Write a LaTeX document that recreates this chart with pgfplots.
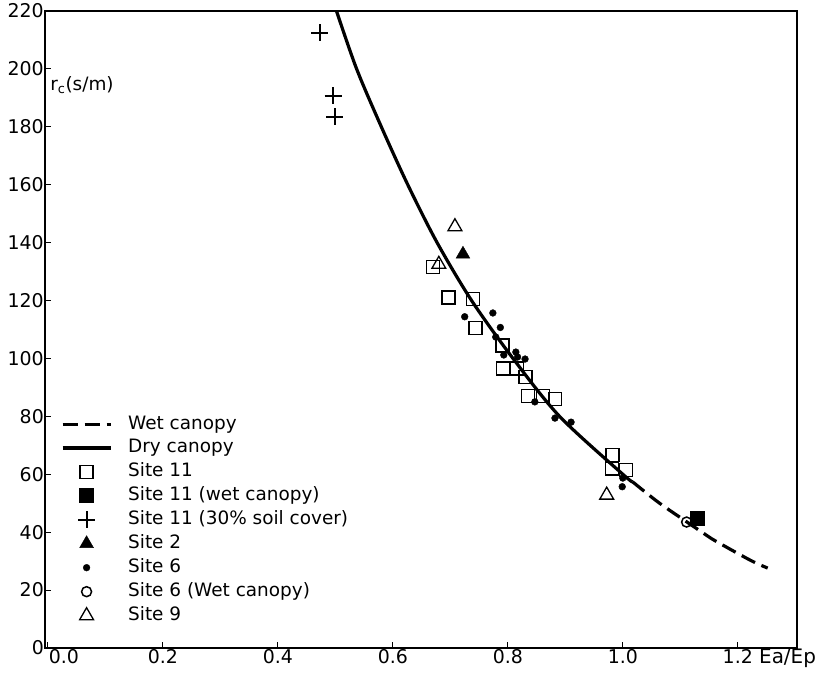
\documentclass[border=0pt]{standalone}
\usepackage{fontspec}
\setmainfont{DejaVu Sans}
\usepackage{pgfplots}
\pgfplotsset{compat=1.18}
\begin{document}
\begin{tikzpicture}[font=\fontsize{19}{22}\selectfont]
\begin{axis}[
  scale only axis, width=752bp, height=637bp,
  xmin=-0.005, xmax=1.303, ymin=0, ymax=220,
  axis line style={line width=1.3bp},
  tick pos=left, tick align=inside, major tick length=6bp,
  tick style={line width=1bp, black},
  xtick={0,0.2,0.4,0.6,0.8,1.0,1.2},
  xticklabels={\hspace*{32bp}0.0, 0.2, 0.4, 0.6, 0.8, 1.0, 1.2\rlap{\fontsize{20}{24}\selectfont\ Ea/Ep}},
  ytick={0,20,...,220},
  /pgf/number format/assume math mode=true,
  yticklabel style={inner sep=1bp},
  xticklabel style={inner sep=1bp},
  legend style={draw=none, fill=none, at={(0.021,0.368)}, anchor=north west,
    inner sep=0pt, row sep=2bp, column sep=14bp,
    font=\fontsize{18.5}{22}\selectfont,
    nodes={inner sep=2bp, text depth=4bp}},
  legend cell align=left,
  legend image code/.code={\draw[mark repeat=2,mark phase=2,#1] plot coordinates {(0bp,0bp) (24bp,0bp) (48bp,0bp)};},
]
% Wet canopy (dashed)
\addplot[black, line width=3.2bp, dash pattern=on 15bp off 7bp, smooth] coordinates {
  (1.017,57.4) (1.064,50) (1.128,41.3) (1.154,37.8) (1.221,30.4) (1.252,27.6)};
\addlegendentry{Wet canopy}
% Dry canopy (solid)
\addplot[black, line width=3.2bp, smooth] coordinates {
  (0.502,220) (0.537,200) (0.580,180) (0.626,160) (0.677,140) (0.737,120)
  (0.809,100) (0.890,80) (1.000,60) (1.017,57.4)};
\addlegendentry{Dry canopy}
% Site 11
\addplot[only marks, mark=square, mark size=6.5bp, mark options={line width=1.3bp, black}] coordinates {
  (0.670,131.5) (0.697,121) (0.739,120.5) (0.744,110.5) (0.791,104.5)
  (0.792,96.5) (0.816,96.5) (0.831,93.5) (0.835,87) (0.861,87) (0.882,86)
  (0.982,66.7) (0.981,62) (1.005,61.5)};
\addlegendentry{Site 11}
% Site 11 wet canopy
\addplot[only marks, mark=square*, mark size=7bp, mark options={black, fill=black}] coordinates {
  (1.129,45)};
\addlegendentry{Site 11 (wet canopy)}
% Site 11 30% soil cover
\addplot[only marks, mark=+, mark size=8.5bp, mark options={line width=2bp, black}] coordinates {
  (0.473,212.4) (0.496,190.7) (0.499,183.5)};
\addlegendentry{Site 11 (30\% soil cover)}
% Site 2
\addplot[only marks, mark=triangle*, mark size=8bp, mark options={black, fill=black}] coordinates {
  (0.722,136)};
\addlegendentry{Site 2}
% Site 6
\addplot[only marks, mark=*, mark size=3.4bp, mark options={black, fill=black}] coordinates {
  (0.725,114.4) (0.774,115.7) (0.787,110.7) (0.779,107.4) (0.793,101.2)
  (0.814,102.2) (0.817,100.5) (0.830,99.8) (0.847,85) (0.882,79.4)
  (0.910,78) (1.0,58.7) (0.999,55.7)};
\addlegendentry{Site 6}
% Site 6 wet canopy
\addplot[only marks, mark=o, mark size=5bp, mark options={line width=1.5bp, black}] coordinates {
  (1.111,43.5)};
\addlegendentry{Site 6 (Wet canopy)}
% Site 9
\addplot[only marks, mark=triangle, mark size=8bp, mark options={line width=1.3bp, black}] coordinates {
  (0.708,145.5) (0.680,132.5) (0.972,52.8)};
\addlegendentry{Site 9}
\node[anchor=west, inner sep=0pt, font=\fontsize{18.5}{22}\selectfont] at (axis cs:0.004,194.5) {r\textsubscript{c}(s/m)};
\end{axis}
\pgfresetboundingbox
\path ([shift={(-45bp,-27bp)}]current axis.south west) rectangle ([shift={(24bp,11bp)}]current axis.north east);
\end{tikzpicture}
\end{document}
